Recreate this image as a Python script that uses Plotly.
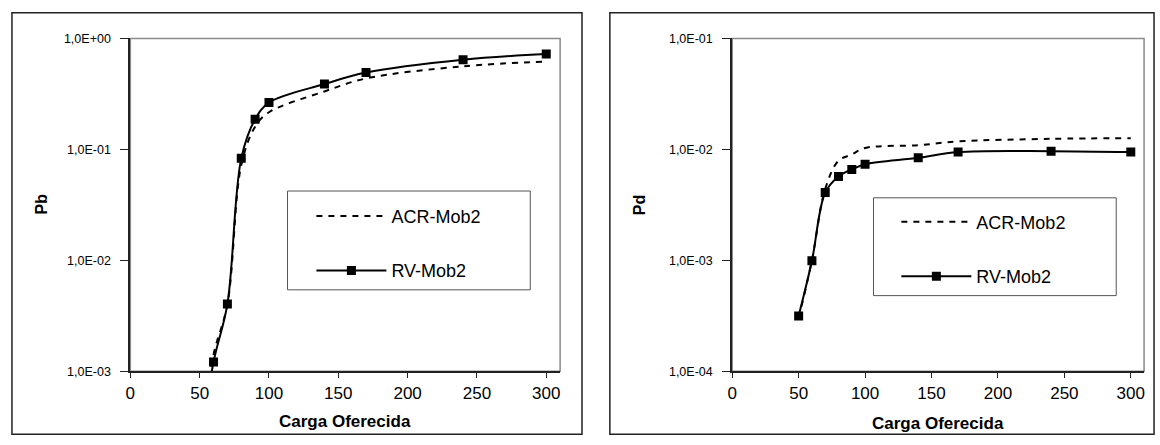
import plotly.graph_objects as go

# ---- data ----
carga = [50, 60, 70, 80, 90, 100, 140, 170, 240, 300]

pb_acr = [2.5e-4, 1.41e-3, 4.0e-3, 0.072, 0.16, 0.216, 0.333, 0.436, 0.561, 0.62]
pb_rv = [2.0e-4, 1.21e-3, 4.03e-3, 0.083, 0.187, 0.264, 0.388, 0.493, 0.644, 0.724]

pd_acr = [3.0e-4, 1.0e-3, 4.4e-3, 7.9e-3, 9.0e-3, 1.03e-2, 1.09e-2, 1.18e-2, 1.245e-2, 1.26e-2]
pd_rv = [3.15e-4, 9.9e-4, 4.08e-3, 5.7e-3, 6.6e-3, 7.35e-3, 8.4e-3, 9.45e-3, 9.64e-3, 9.45e-3]

x_ticks = [0, 50, 100, 150, 200, 250, 300]
pb_tickvals = [1e-3, 1e-2, 1e-1, 1e0]
pb_ticktext = ["1,0E-03", "1,0E-02", "1,0E-01", "1,0E+00"]
pd_tickvals = [1e-4, 1e-3, 1e-2, 1e-1]
pd_ticktext = ["1,0E-04", "1,0E-03", "1,0E-02", "1,0E-01"]

names = ["ACR-Mob2", "RV-Mob2"]

W, H = 1160, 445
FONT = "Liberation Sans, Arial, sans-serif"


def px(v):
    return v / W


def py(v):
    return 1 - v / H


fig = go.Figure()

# Left chart (Pb)
fig.add_trace(go.Scatter(x=carga, y=pb_acr, name=names[0], mode="lines",
                         line=dict(color="black", width=2, dash="6px,6px", shape="spline"),
                         xaxis="x", yaxis="y", legend="legend", legendgroup="a"))
fig.add_trace(go.Scatter(x=carga, y=pb_rv, name=names[1], mode="lines+markers",
                         line=dict(color="black", width=2, shape="spline"),
                         marker=dict(symbol="square", size=9, color="black"),
                         xaxis="x", yaxis="y", legend="legend", legendgroup="b"))
# Right chart (Pd)
fig.add_trace(go.Scatter(x=carga, y=pd_acr, name=names[0], mode="lines",
                         line=dict(color="black", width=2, dash="6px,6px", shape="spline"),
                         xaxis="x2", yaxis="y2", legend="legend2", legendgroup="c"))
fig.add_trace(go.Scatter(x=carga, y=pd_rv, name=names[1], mode="lines+markers",
                         line=dict(color="black", width=2, shape="spline"),
                         marker=dict(symbol="square", size=9, color="black"),
                         xaxis="x2", yaxis="y2", legend="legend2", legendgroup="d"))

axis_common = dict(showgrid=False, zeroline=False, showline=True, linecolor="#222222",
                   linewidth=2, ticks="outside", tickcolor="#222222", tickwidth=1)

xax = dict(axis_common, range=[0, 310], tickvals=x_ticks, ticklen=5,
           tickfont=dict(family=FONT, size=17, color="black"))

ydom = [py(376), py(32.5)]

legend_common = dict(bgcolor="rgba(0,0,0,0)", borderwidth=0, itemwidth=70,
                     tracegroupgap=28, font=dict(family=FONT, size=18, color="black"),
                     xanchor="left", yanchor="top")

fig.update_layout(
    width=W, height=H,
    margin=dict(l=0, r=0, t=0, b=0),
    paper_bgcolor="white", plot_bgcolor="white",
    showlegend=True,
    xaxis=dict(xax, domain=[px(126), px(558)], anchor="y"),
    yaxis=dict(axis_common, type="log", range=[-3, 0], domain=ydom, anchor="x",
               tickvals=pb_tickvals, ticktext=pb_ticktext, ticklen=8, ticklabelstandoff=7,
               tickfont=dict(family=FONT, size=12.5, color="black")),
    xaxis2=dict(xax, domain=[px(731), px(1145)], anchor="y2"),
    yaxis2=dict(axis_common, type="log", range=[-4, -1], domain=ydom, anchor="x2",
                tickvals=pd_tickvals, ticktext=pd_ticktext, ticklen=8, ticklabelstandoff=7,
                tickfont=dict(family=FONT, size=12.5, color="black")),
    legend=dict(legend_common, x=px(308), y=py(197)),
    legend2=dict(legend_common, x=px(896), y=py(203)),
)

shapes = []
# outer panel frames
shapes.append(dict(type="rect", xref="paper", yref="paper", x0=px(7), x1=px(580), y0=py(441), y1=py(6),
                   line=dict(color="#222222", width=1.5), layer="below"))
shapes.append(dict(type="rect", xref="paper", yref="paper", x0=px(608), x1=px(1155), y0=py(441), y1=py(6),
                   line=dict(color="#222222", width=1.5), layer="below"))
# plot area borders (gray)
for xa, ya in (("x", "y"), ("x2", "y2")):
    shapes.append(dict(type="rect", xref=f"{xa} domain", yref=f"{ya} domain", x0=0, x1=1, y0=0, y1=1,
                       line=dict(color="#8a8a8a", width=1.5), layer="below"))
# legend boxes
shapes.append(dict(type="rect", xref="paper", yref="paper", x0=px(284), x1=px(528), y0=py(292), y1=py(190),
                   line=dict(color="#555555", width=1), layer="below"))
shapes.append(dict(type="rect", xref="paper", yref="paper", x0=px(873), x1=px(1117), y0=py(298), y1=py(197),
                   line=dict(color="#555555", width=1), layer="below"))
fig.update_layout(shapes=shapes)

ann_font = dict(family=FONT, size=17, color="black")
annotations = [
    dict(text="<b>Carga Oferecida</b>", x=px(342), y=py(428), xref="paper", yref="paper",
         showarrow=False, font=ann_font, xanchor="center", yanchor="middle"),
    dict(text="<b>Carga Oferecida</b>", x=px(938), y=py(430), xref="paper", yref="paper",
         showarrow=False, font=ann_font, xanchor="center", yanchor="middle"),
    dict(text="<b>Pb</b>", x=px(37), y=py(203), xref="paper", yref="paper", textangle=-90,
         showarrow=False, font=dict(family=FONT, size=16, color="black"), xanchor="center", yanchor="middle"),
    dict(text="<b>Pd</b>", x=px(638), y=py(205), xref="paper", yref="paper", textangle=-90,
         showarrow=False, font=dict(family=FONT, size=16, color="black"), xanchor="center", yanchor="middle"),
]
fig.update_layout(annotations=annotations)

fig.write_html(
    "out.html",
    config={"displayModeBar": False},
    post_script="document.body.style.margin='0';document.body.style.overflow='hidden';",
)
